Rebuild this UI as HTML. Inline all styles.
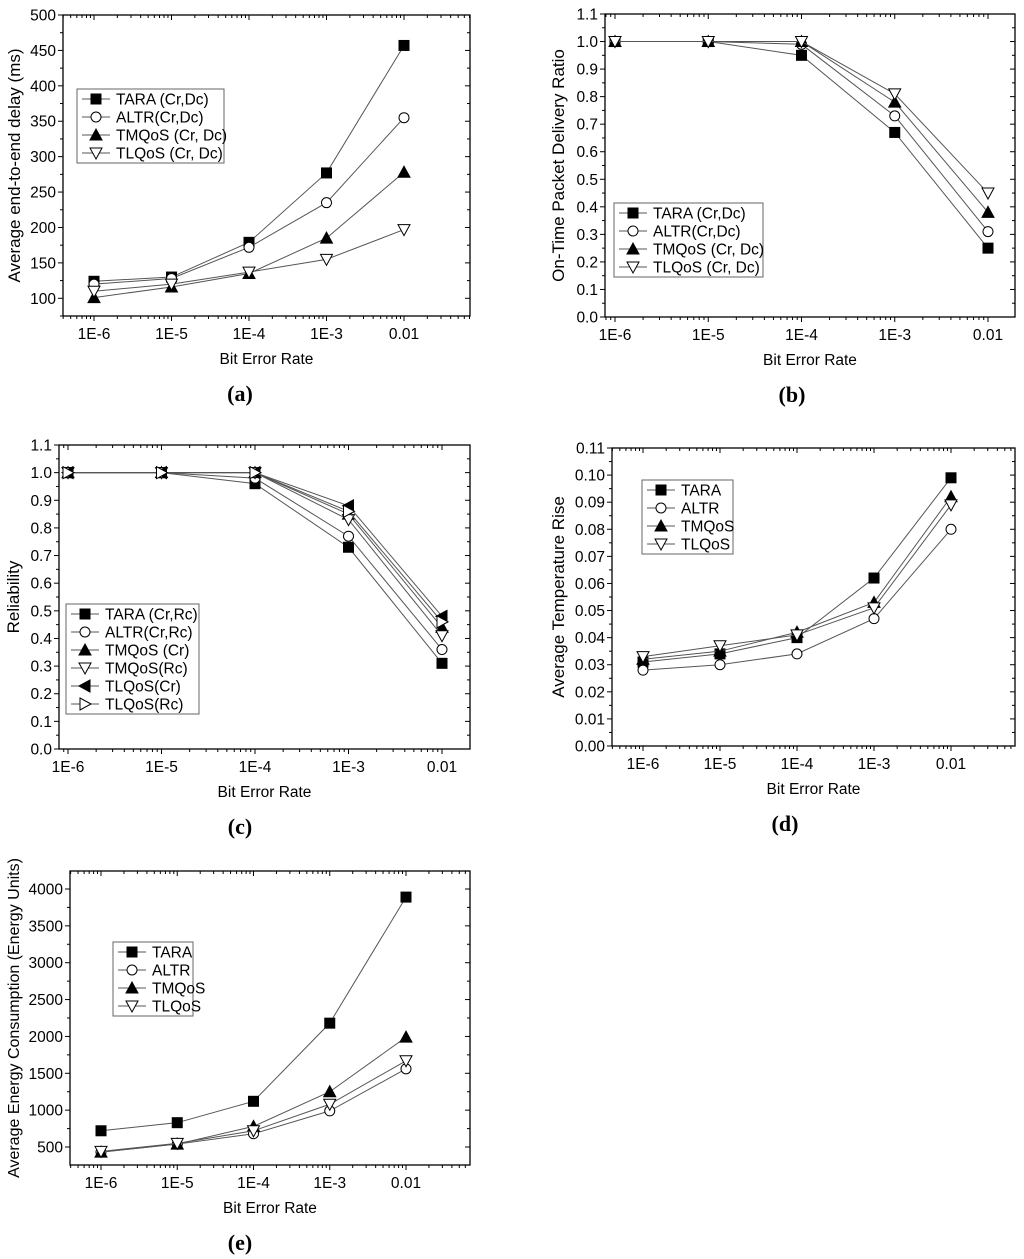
<!DOCTYPE html>
<html><head><meta charset="utf-8"><style>
html,body{margin:0;padding:0;background:#fff;}
svg{display:block;font-family:"Liberation Sans",Arial,sans-serif;}
</style></head><body>
<svg id="fig" width="1024" height="1259" viewBox="0 0 1024 1259" xmlns="http://www.w3.org/2000/svg"></svg>
<script>
const categories = ["1E-6","1E-5","1E-4","1E-3","0.01"];
const aTARA = [124,130,179,277,457];
const aALTR = [120,128,172,235,355];
const aTMQoS = [101,116,135,185,278];
const aTLQoS = [110,120,137,155,197];
const bTARA = [1,1,0.95,0.67,0.25];
const bALTR = [1,1,0.99,0.73,0.31];
const bTMQoS = [1,1,1,0.78,0.38];
const bTLQoS = [1,1,1,0.81,0.45];
const cTARA = [1,1,0.96,0.73,0.31];
const cALTR = [1,1,0.98,0.77,0.36];
const cTMQoSCr = [1,1,1,0.85,0.44];
const cTMQoSRc = [1,1,1,0.83,0.41];
const cTLQoSCr = [1,1,1,0.88,0.48];
const cTLQoSRc = [1,1,1,0.86,0.46];
const dTARA = [0.031,0.034,0.040,0.062,0.099];
const dALTR = [0.028,0.030,0.034,0.047,0.080];
const dTMQoS = [0.032,0.035,0.042,0.053,0.092];
const dTLQoS = [0.033,0.037,0.041,0.051,0.089];
const eTARA = [720,830,1120,2180,3890];
const eALTR = [430,540,680,990,1560];
const eTMQoS = [430,540,780,1250,1990];
const eTLQoS = [440,550,720,1080,1670];
const aTicks = [100,150,200,250,300,350,400,450,500];
const bTicks = [0,0.1,0.2,0.3,0.4,0.5,0.6,0.7,0.8,0.9,1.0,1.1];
const dTicks = [0,0.01,0.02,0.03,0.04,0.05,0.06,0.07,0.08,0.09,0.10,0.11];
const eTicks = [500,1000,1500,2000,2500,3000,3500,4000];

const NS="http://www.w3.org/2000/svg";
const svg=document.getElementById('fig');
function mk(tag,attrs,parent){const e=document.createElementNS(NS,tag);for(const k in attrs)e.setAttribute(k,attrs[k]);(parent||svg).appendChild(e);return e;}

function marker(g,type,x,y){
  const s=5;let e;
  const st={stroke:'#000','stroke-width':1};
  if(type==='sq'){e=mk('rect',Object.assign({x:x-s,y:y-s,width:2*s,height:2*s,fill:'#000'},st),g);}
  else if(type==='ci'){e=mk('circle',Object.assign({cx:x,cy:y,r:s,fill:'#fff'},st),g);}
  else if(type==='tu'){e=mk('polygon',Object.assign({points:`${x},${y-s-1} ${x+s+1},${y+s} ${x-s-1},${y+s}`,fill:'#000'},st),g);}
  else if(type==='td'){e=mk('polygon',Object.assign({points:`${x},${y+s+1} ${x+s+1},${y-s} ${x-s-1},${y-s}`,fill:'#fff'},st),g);}
  else if(type==='tl'){e=mk('polygon',Object.assign({points:`${x-s-1},${y} ${x+s},${y-s-1} ${x+s},${y+s+1}`,fill:'#000'},st),g);}
  else if(type==='tr'){e=mk('polygon',Object.assign({points:`${x+s+1},${y} ${x-s},${y-s-1} ${x-s},${y+s+1}`,fill:'#fff'},st),g);}
  
  
}

function chart(cfg){
  const g=mk('g',{});
  
  
  const {L,R,T,B,x0,x4,ymin,ymax}=cfg;
  const dec=(x4-x0)/4;
  const xs=i=>x0+i*dec;
  const xlog=l=>x0+(l+6)*dec;
  const ys=v=>B-(v-ymin)/(ymax-ymin)*(B-T);
  const fr=mk('rect',{x:L,y:T,width:R-L,height:B-T,fill:'none',stroke:'#000','stroke-width':1.3},g);
  
  
  for(let d=-7;d<=-1;d++){
    for(let m=1;m<=9;m++){
      const x=xlog(d+Math.log10(m));
      if(x<L||x>R)continue;
      const len=m===1?5:3;
      mk('line',{x1:x,y1:B,x2:x,y2:B+len,stroke:'#000','stroke-width':1},g);
      mk('line',{x1:x,y1:T,x2:x,y2:T+len,stroke:'#000','stroke-width':1},g);
    }
  }
  categories.forEach((c,i)=>{
    const t=mk('text',{x:xs(i),y:B+23,'text-anchor':'middle','font-size':15.5},g);
    t.textContent=c;
    
    
  });
  const tk=cfg.ticks;const step=tk[1]-tk[0];
  tk.forEach((v,i)=>{
    const y=ys(v);
    mk('line',{x1:L-5,y1:y,x2:L,y2:y,stroke:'#000','stroke-width':1},g);
    mk('line',{x1:R-5,y1:y,x2:R,y2:y,stroke:'#000','stroke-width':1},g);
    const t=mk('text',{x:L-7,y:y+5.5,'text-anchor':'end','font-size':15.5},g);
    t.textContent=cfg.fmt(v);
    
    
  });
  for(let v=tk[0]-step/2;v<=ymax;v+=step){
    if(v<ymin)continue;const y=ys(v);
    mk('line',{x1:L-3,y1:y,x2:L,y2:y,stroke:'#000','stroke-width':1},g);
    mk('line',{x1:R-3,y1:y,x2:R,y2:y,stroke:'#000','stroke-width':1},g);
  }
  cfg.series.forEach(s=>{
    const sg=mk('g',{},g);
    
    
    const pts=s.data.map((v,i)=>xs(i)+','+ys(v)).join(' ');
    mk('polyline',{points:pts,fill:'none',stroke:'#555','stroke-width':1},sg);
    s.data.forEach((v,i)=>marker(sg,s.m,xs(i),ys(v)));
  });
  const lg=mk('g',{},g);
  
  
  mk('rect',{x:cfg.lx,y:cfg.ly,width:cfg.lw,height:cfg.series.length*18+2,fill:'#fff',stroke:'#666','stroke-width':1},lg);
  cfg.series.forEach((s,i)=>{
    const y=cfg.ly+10+i*18;
    mk('line',{x1:cfg.lx+5,y1:y,x2:cfg.lx+33,y2:y,stroke:'#555','stroke-width':1},lg);
    marker(lg,s.m,cfg.lx+19,y);
    const t=mk('text',{x:cfg.lx+39,y:y+5.5,'font-size':15.5},lg);
    t.textContent=s.label;
    
    
  });
  const xt=mk('text',{x:(L+R)/2,y:B+48,'text-anchor':'middle','font-size':15.5},g);
  xt.textContent='Bit Error Rate';
  
  
  const ty=(T+B)/2;
  const yt=mk('text',{x:cfg.ytx,y:ty,'text-anchor':'middle','font-size':cfg.yfs||17,transform:`rotate(-90 ${cfg.ytx} ${ty})`},g);
  yt.textContent=cfg.ytitle;
  
  
  const cap=mk('text',{x:cfg.capx,y:B+85,'text-anchor':'middle','font-size':22,'font-weight':'bold','font-family':'"Liberation Serif",serif'},g);
  cap.textContent=cfg.cap;
  
  
}

chart({name:'chart-a-delay',L:63,R:470,T:15,B:316,x0:94,x4:404,ymin:75,ymax:500,ticks:aTicks,fmt:v=>String(v),
  ytitle:'Average end-to-end delay (ms)',ytx:20,cap:'(a)',capx:240,lx:77,ly:89,lw:147,
  series:[{label:'TARA (Cr,Dc)',data:aTARA,m:'sq'},{label:'ALTR(Cr,Dc)',data:aALTR,m:'ci'},{label:'TMQoS (Cr, Dc)',data:aTMQoS,m:'tu'},{label:'TLQoS (Cr, Dc)',data:aTLQoS,m:'td'}]});
chart({name:'chart-b-delivery',L:605,R:1015,T:14,B:317,x0:615,x4:988,ymin:0,ymax:1.1,ticks:bTicks,fmt:v=>v.toFixed(1),
  ytitle:'On-Time Packet Delivery Ratio',ytx:564,cap:'(b)',capx:792,lx:614,ly:203,lw:149,
  series:[{label:'TARA (Cr,Dc)',data:bTARA,m:'sq'},{label:'ALTR(Cr,Dc)',data:bALTR,m:'ci'},{label:'TMQoS (Cr, Dc)',data:bTMQoS,m:'tu'},{label:'TLQoS (Cr, Dc)',data:bTLQoS,m:'td'}]});
chart({name:'chart-c-reliability',L:59,R:470,T:445,B:749,x0:68,x4:442,ymin:0,ymax:1.1,ticks:bTicks,fmt:v=>v.toFixed(1),
  ytitle:'Reliability',ytx:19,cap:'(c)',capx:240,lx:66,ly:604,lw:133,
  series:[{label:'TARA (Cr,Rc)',data:cTARA,m:'sq'},{label:'ALTR(Cr,Rc)',data:cALTR,m:'ci'},{label:'TMQoS (Cr)',data:cTMQoSCr,m:'tu'},{label:'TMQoS(Rc)',data:cTMQoSRc,m:'td'},{label:'TLQoS(Cr)',data:cTLQoSCr,m:'tl'},{label:'TLQoS(Rc)',data:cTLQoSRc,m:'tr'}]});
chart({name:'chart-d-temperature',L:612,R:1015,T:448,B:746,x0:643,x4:951,ymin:0,ymax:0.11,ticks:dTicks,fmt:v=>v.toFixed(2),
  ytitle:'Average Temperature Rise',ytx:564,cap:'(d)',capx:785,lx:642,ly:480,lw:91,
  series:[{label:'TARA',data:dTARA,m:'sq'},{label:'ALTR',data:dALTR,m:'ci'},{label:'TMQoS',data:dTMQoS,m:'tu'},{label:'TLQoS',data:dTLQoS,m:'td'}]});
chart({name:'chart-e-energy',L:70,R:470,T:871,B:1165,x0:101,x4:406,ymin:256,ymax:4244,ticks:eTicks,fmt:v=>String(v),
  ytitle:'Average Energy Consumption (Energy Units)',ytx:19,yfs:16,cap:'(e)',capx:240,lx:113,ly:942,lw:80,
  series:[{label:'TARA',data:eTARA,m:'sq'},{label:'ALTR',data:eALTR,m:'ci'},{label:'TMQoS',data:eTMQoS,m:'tu'},{label:'TLQoS',data:eTLQoS,m:'td'}]});
</script>
</body></html>
